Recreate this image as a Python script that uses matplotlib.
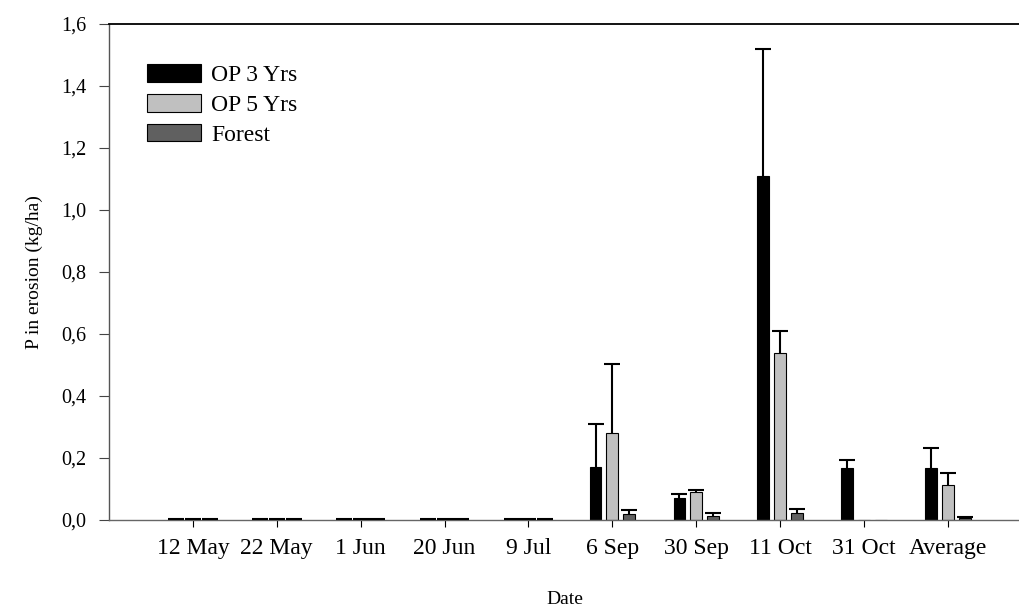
import numpy as np
import matplotlib
matplotlib.use('Agg')
import matplotlib.pyplot as plt

dates = ['12 May', '22 May', '1 Jun', '20 Jun', '9 Jul', '6 Sep', '30 Sep', '11 Oct', '31 Oct', 'Average']
op3 = [0.002, 0.002, 0.002, 0.002, 0.002, 0.17, 0.071, 1.11, 0.168, 0.168]
op3_err = [0.001, 0.001, 0.001, 0.001, 0.001, 0.14, 0.013, 0.41, 0.025, 0.064]
op5 = [0.002, 0.002, 0.002, 0.002, 0.002, 0.28, 0.09, 0.54, 0.0, 0.113]
op5_err = [0.001, 0.001, 0.001, 0.001, 0.001, 0.223, 0.007, 0.07, 0.0, 0.038]
forest = [0.001, 0.001, 0.001, 0.001, 0.001, 0.019, 0.013, 0.023, 0.0, 0.006]
forest_err = [0.001, 0.001, 0.001, 0.001, 0.001, 0.013, 0.010, 0.012, 0.0, 0.004]

plt.rcParams['font.family'] = ['Liberation Serif', 'DejaVu Serif']

fig = plt.figure(figsize=(10.2, 6.07), dpi=100)
ax = fig.add_axes([0.1069, 0.1433, 0.8931, 0.8172])

x = np.arange(len(dates))
w = 0.14
off = 0.2
series = [(op3, op3_err, 'black', 'OP 3 Yrs', -off),
          (op5, op5_err, '#c0c0c0', 'OP 5 Yrs', 0.0),
          (forest, forest_err, '#606060', 'Forest', off)]

for vals, errs, col, lab, dx in series:
    vals = np.array(vals)
    errs = np.array(errs)
    ax.bar(x + dx, vals, w, color=col, edgecolor='black', linewidth=0.8, label=lab, zorder=2)
    m = errs > 0
    eb = ax.errorbar(x[m] + dx, vals[m], yerr=[np.zeros(m.sum()), errs[m]], fmt='none',
                     ecolor='black', elinewidth=1.5, capsize=5.5, capthick=1.5, zorder=3)
    # only the upper cap, like the original
    eb[1][0].set_visible(False)

ax.set_xlim(-1.0, 9.86)
ax.set_ylim(0, 1.6)
ax.set_yticks(np.arange(0, 1.61, 0.2))
ax.set_yticklabels([('%.1f' % v).replace('.', ',') for v in np.arange(0, 1.61, 0.2)])
ax.set_xticks(x)
ax.set_xticklabels(dates)
ax.tick_params(axis='y', labelsize=14.5, direction='out', length=7.5, width=0.8,
               color='#444444', pad=9)
ax.tick_params(axis='x', labelsize=17, direction='out', length=5, width=0.8,
               color='black', pad=8)

ax.spines['right'].set_visible(False)
ax.spines['top'].set_color('black')
ax.spines['top'].set_linewidth(1.3)
ax.spines['left'].set_color('#555555')
ax.spines['bottom'].set_color('#666666')
ax.spines['left'].set_linewidth(1.0)
ax.spines['bottom'].set_linewidth(1.0)

ax.set_ylabel('P in erosion (kg/ha)', fontsize=14, labelpad=13)
ax.set_xlabel('Date', fontsize=14, labelpad=23)

ax.legend(loc='upper left', bbox_to_anchor=(0.023, 0.952), frameon=False, fontsize=17,
          handlelength=2.3, handleheight=0.76, labelspacing=0.33, handletextpad=0.45,
          borderpad=0.2)

fig.savefig('out.png', dpi=100)
